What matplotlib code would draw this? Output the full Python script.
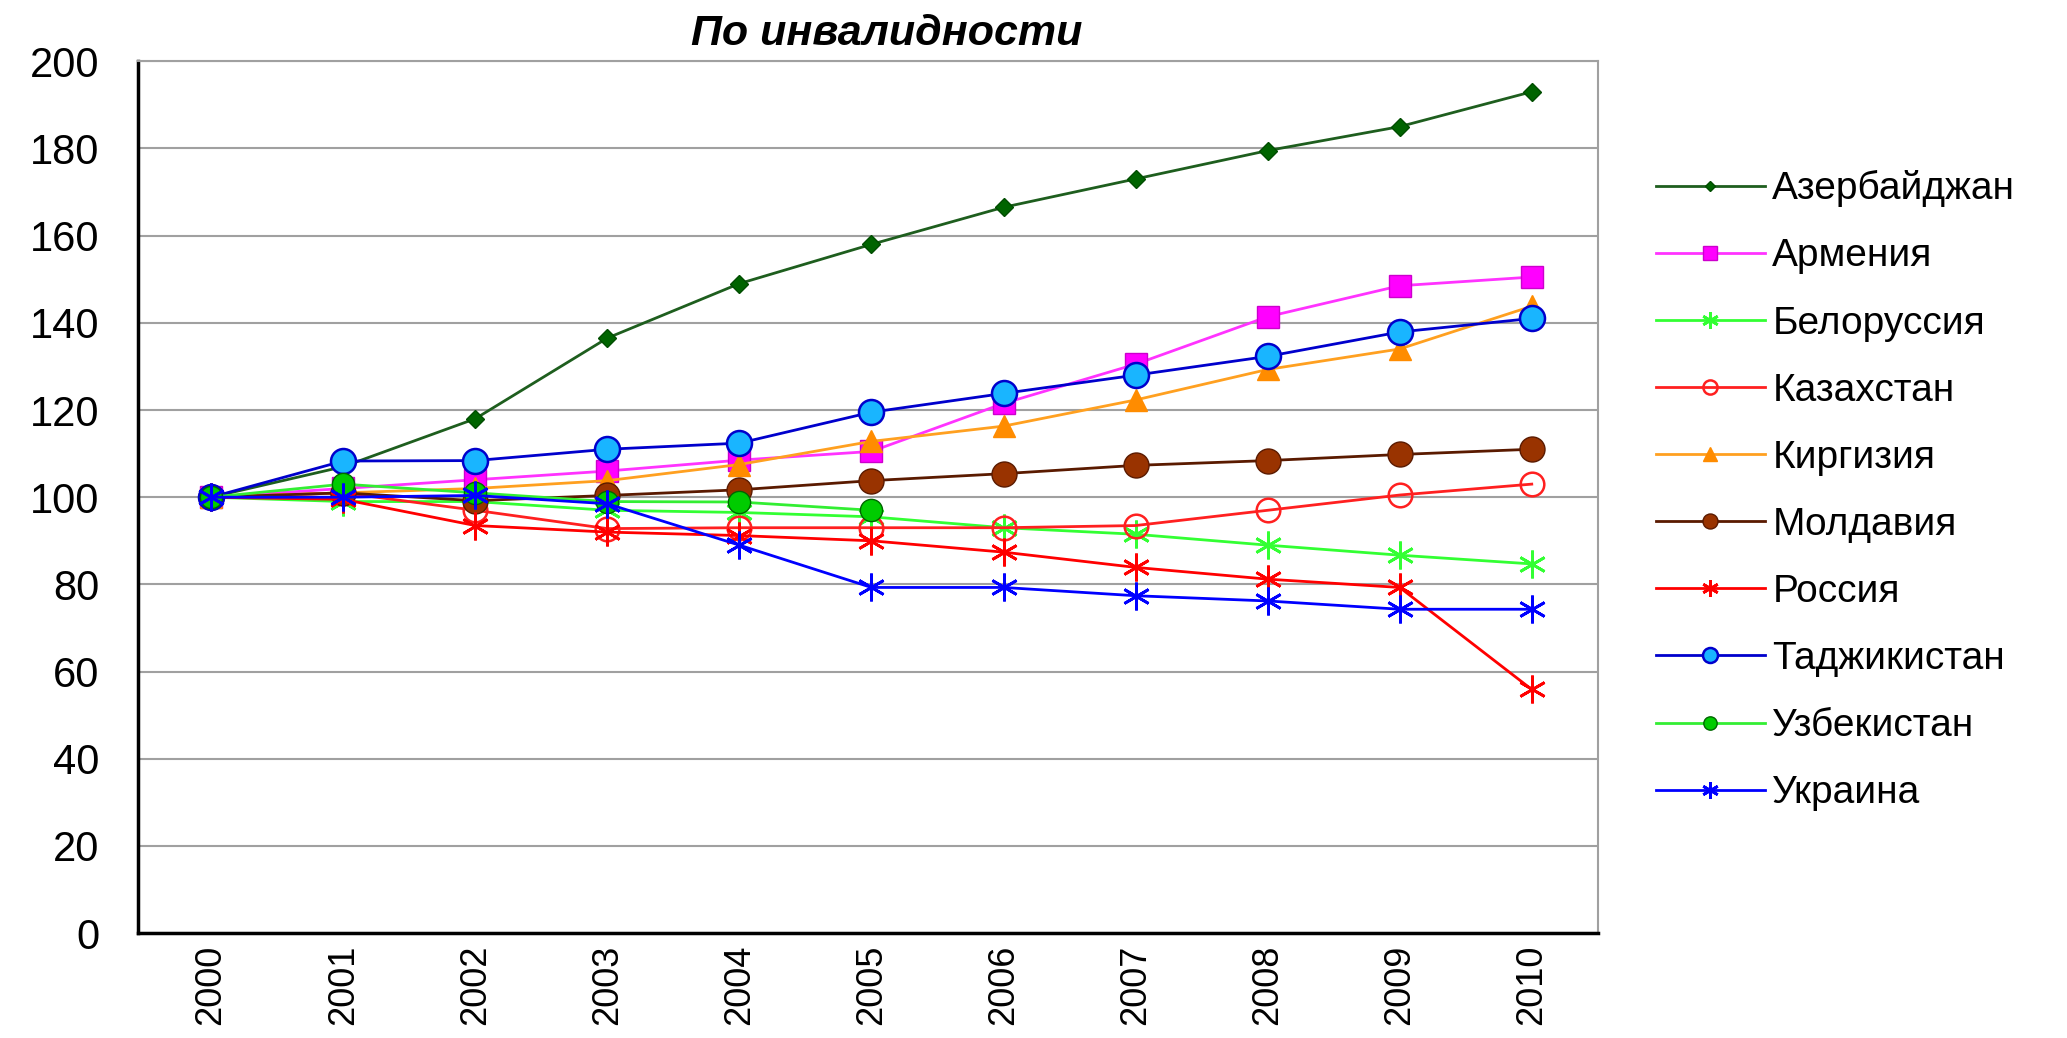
import numpy as np
import matplotlib
matplotlib.use("Agg")
import matplotlib.pyplot as plt

plt.rcParams['font.family'] = ['Liberation Sans', 'DejaVu Sans']

years = ['2000', '2001', '2002', '2003', '2004', '2005', '2006', '2007', '2008', '2009', '2010']
nan = np.nan

azerbaijan = [100, 107, 118, 136.5, 149, 158, 166.5, 173, 179.5, 185, 193]
armenia = [100, 102, 104, 106, 108.5, 110.5, 121.5, 130.5, 141.4, 148.5, 150.5]
belarus = [100, 99, 99, 97, 96.5, 95.5, 93, 91.5, 89, 86.7, 84.7]
kazakhstan = [100, 101, 97, 92.8, 93, 93, 93, 93.5, 97, 100.5, 103]
kirgizia = [100, 101, 102, 103.8, 107.5, 112.8, 116.3, 122.3, 129.3, 134, 143.8]
moldova = [100, 101, 99.2, 100.4, 101.7, 103.8, 105.4, 107.3, 108.4, 109.8, 111]
russia = [100, 99.5, 93.5, 92, 91.2, 90, 87.4, 83.9, 81.2, 79.3, 55.9]
tajikistan = [100, 108.3, 108.4, 111, 112.4, 119.5, 123.8, 128, 132.3, 137.9, 141]
uzbekistan = [100, 103, 101, 99, 98.9, 97, nan, nan, nan, nan, nan]
ukraine = [100, 100, 100.4, 98.5, 89, 79.3, 79.3, 77.4, 76.2, 74.3, 74.3]

names = ['Азербайджан', 'Армения', 'Белоруссия', 'Казахстан', 'Киргизия',
         'Молдавия', 'Россия', 'Таджикистан', 'Узбекистан', 'Украина']
series = [azerbaijan, armenia, belarus, kazakhstan, kirgizia,
          moldova, russia, tajikistan, uzbekistan, ukraine]

star = (6, 2, 0)
styles = [
    dict(color='#1e5e1e', marker='D', ms=9, mfc='#006400', mec='#004d00'),
    dict(color='#ff33ff', marker='s', ms=16, mfc='#ff00ff', mec='#cc00cc'),
    dict(color='#33ff33', marker=star, ms=20, mfc='#33ff33', mec='#33ff33', mew=2),
    dict(color='#ff2020', marker='o', ms=17, mfc='none', mec='#ff2020', mew=1.8),
    dict(color='#ffa020', marker='^', ms=16, mfc='#ff8c00', mec='#ff8c00'),
    dict(color='#5a1a00', marker='o', ms=18, mfc='#993300', mec='#5a1a00'),
    dict(color='#ff0000', marker=star, ms=20, mfc='#ff0000', mec='#ff0000', mew=2),
    dict(color='#0000cc', marker='o', ms=18, mfc='#19b5ff', mec='#0000cc', mew=1.8),
    dict(color='#33ee33', marker='o', ms=16, mfc='#00cc00', mec='#006600'),
    dict(color='#0000ff', marker=star, ms=20, mfc='#0000ff', mec='#0000ff', mew=2),
]

fig = plt.figure(figsize=(20.67, 10.38), dpi=100)
ax = fig.add_axes([0.067, 0.101, 0.706, 0.840])

x = np.arange(len(years))
for name, vals, st in zip(names, series, styles):
    ax.plot(x, vals, lw=2, label=name, **st)

ax.set_xlim(-0.55, len(years) - 0.5)
ax.set_ylim(0, 200)
ax.set_yticks(range(0, 201, 20))
ax.set_xticks(x)
ax.set_xticklabels(years, rotation=90)
ax.tick_params(axis='y', labelsize=30, length=0, pad=28)
ax.tick_params(axis='x', labelsize=26, length=0, pad=8)
ax.yaxis.grid(True, color='#a0a0a0', lw=1.5)
ax.set_axisbelow(True)
for s in ['top', 'right']:
    ax.spines[s].set_color('#a0a0a0')
    ax.spines[s].set_linewidth(1.5)
for s in ['left', 'bottom']:
    ax.spines[s].set_color('black')
    ax.spines[s].set_linewidth(2.5)

ax.set_title('По инвалидности', fontsize=31, style='italic', fontweight='bold',
             x=0.513, pad=12)

ax.legend(loc='upper left', bbox_to_anchor=(0.801, 0.836), bbox_transform=fig.transFigure,
          frameon=False, fontsize=28, handlelength=2.8, labelspacing=0.8,
          handletextpad=0.2, borderaxespad=0, borderpad=0, markerscale=0.6)

fig.savefig('out.png', dpi=100)
